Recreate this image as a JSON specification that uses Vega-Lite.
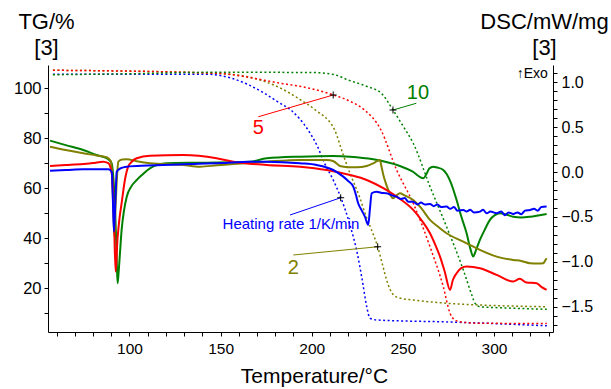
{
  "$schema": "https://vega.github.io/schema/vega-lite/v6.json",
  "width": 505,
  "height": 267,
  "autosize": {"type": "none"},
  "padding": {"left": 48, "top": 65, "right": 58, "bottom": 57},
  "background": "white",
  "config": {
    "view": {"stroke": null},
    "font": "Liberation Sans",
    "axis": {
      "domainColor": "black", "tickColor": "black", "labelColor": "black", "titleColor": "black",
      "grid": false, "labelFont": "Liberation Sans", "titleFont": "Liberation Sans",
      "titleFontWeight": "normal", "domainWidth": 1, "tickWidth": 1, "tickSize": 4,
      "labelOverlap": false, "labelFlush": false
    }
  },
  "datasets": {
    "tg": [
      {"r":"1","T":58,"v":105.6},{"r":"1","T":100,"v":105.6},{"r":"1","T":143,"v":105.6},{"r":"1","T":156,"v":104.0},{"r":"1","T":165,"v":101.5},{"r":"1","T":174,"v":98.0},{"r":"1","T":182,"v":94.3},{"r":"1","T":189,"v":91.0},{"r":"1","T":198,"v":83.3},{"r":"1","T":203,"v":77.0},{"r":"1","T":207,"v":70.1},{"r":"1","T":212,"v":63.0},{"r":"1","T":216,"v":56.2},{"r":"1","T":221,"v":45.3},{"r":"1","T":225,"v":34.0},{"r":"1","T":228,"v":22.1},{"r":"1","T":230.2,"v":12.6},{"r":"1","T":232,"v":8.0},{"r":"1","T":236,"v":7.3},{"r":"1","T":276,"v":6.5},{"r":"1","T":329,"v":5.0},
      {"r":"2","T":58,"v":107.2},{"r":"2","T":147,"v":106.0},{"r":"2","T":165,"v":104.6},{"r":"2","T":183,"v":100.0},{"r":"2","T":194,"v":95.3},{"r":"2","T":202,"v":91.3},{"r":"2","T":212.6,"v":83.3},{"r":"2","T":217,"v":74.0},{"r":"2","T":221,"v":66.0},{"r":"2","T":226,"v":57.0},{"r":"2","T":230,"v":48.5},{"r":"2","T":233,"v":43.0},{"r":"2","T":236.2,"v":36.6},{"r":"2","T":239,"v":29.0},{"r":"2","T":241.1,"v":23.3},{"r":"2","T":243,"v":19.5},{"r":"2","T":244.7,"v":17.5},{"r":"2","T":248,"v":16.1},{"r":"2","T":256,"v":15.3},{"r":"2","T":274,"v":14.0},{"r":"2","T":292,"v":13.3},{"r":"2","T":329,"v":12.6},
      {"r":"5","T":58,"v":107.2},{"r":"5","T":147,"v":106.0},{"r":"5","T":183,"v":102.0},{"r":"5","T":200,"v":99.8},{"r":"5","T":212,"v":97.3},{"r":"5","T":221,"v":94.8},{"r":"5","T":229,"v":91.3},{"r":"5","T":238,"v":83.3},{"r":"5","T":246.6,"v":67.3},{"r":"5","T":255.7,"v":54.0},{"r":"5","T":264.9,"v":36.6},{"r":"5","T":272.2,"v":20.6},{"r":"5","T":275.9,"v":10.0},{"r":"5","T":278.6,"v":7.3},{"r":"5","T":283,"v":6.4},{"r":"5","T":292,"v":6.0},{"r":"5","T":329,"v":5.9},
      {"r":"10","T":58,"v":105.4},{"r":"10","T":100,"v":105.8},{"r":"10","T":147,"v":106.4},{"r":"10","T":200,"v":106.3},{"r":"10","T":212,"v":105.5},{"r":"10","T":220,"v":103.3},{"r":"10","T":230,"v":100.8},{"r":"10","T":238.2,"v":98.0},{"r":"10","T":244.6,"v":91.3},{"r":"10","T":250,"v":85.0},{"r":"10","T":255.7,"v":78.0},{"r":"10","T":264.9,"v":60.7},{"r":"10","T":274,"v":44.6},{"r":"10","T":283.2,"v":27.3},{"r":"10","T":288,"v":17.0},{"r":"10","T":289.6,"v":14.0},{"r":"10","T":292.3,"v":12.6},{"r":"10","T":300,"v":12.3},{"r":"10","T":310.6,"v":12.0},{"r":"10","T":329,"v":11.6}
    ],
    "dsc": [
      {"r":"10","T":56.4,"v":0.350},{"r":"10","T":65,"v":0.30},{"r":"10","T":74.6,"v":0.246},{"r":"10","T":82,"v":0.19},{"r":"10","T":87.5,"v":0.154},{"r":"10","T":90.2,"v":0.10},{"r":"10","T":91.3,"v":-0.1},{"r":"10","T":92.0,"v":-0.35},{"r":"10","T":92.6,"v":-0.7},{"r":"10","T":93.1,"v":-1.05},{"r":"10","T":93.5,"v":-1.238},{"r":"10","T":94.0,"v":-1.13},{"r":"10","T":94.8,"v":-0.9},{"r":"10","T":95.7,"v":-0.645},{"r":"10","T":97,"v":-0.43},{"r":"10","T":98.5,"v":-0.274},{"r":"10","T":101,"v":-0.16},{"r":"10","T":104,"v":-0.088},{"r":"10","T":107,"v":-0.03},{"r":"10","T":111.2,"v":0.042},{"r":"10","T":120.4,"v":0.098},{"r":"10","T":138.7,"v":0.105},{"r":"10","T":166.1,"v":0.116},{"r":"10","T":175.3,"v":0.154},{"r":"10","T":193.6,"v":0.172},{"r":"10","T":211.8,"v":0.179},{"r":"10","T":221,"v":0.172},{"r":"10","T":233.8,"v":0.143},{"r":"10","T":248.4,"v":0.068},{"r":"10","T":255,"v":0.01},{"r":"10","T":261.2,"v":-0.069},{"r":"10","T":263,"v":-0.02},{"r":"10","T":264.5,"v":0.04},{"r":"10","T":266.7,"v":0.060},{"r":"10","T":269,"v":0.05},{"r":"10","T":272.2,"v":0.023},{"r":"10","T":276,"v":-0.10},{"r":"10","T":279.5,"v":-0.311},{"r":"10","T":282,"v":-0.49},{"r":"10","T":285,"v":-0.682},{"r":"10","T":287,"v":-0.85},{"r":"10","T":288.6,"v":-0.942},{"r":"10","T":290.3,"v":-0.86},{"r":"10","T":292.3,"v":-0.756},{"r":"10","T":295,"v":-0.64},{"r":"10","T":297.8,"v":-0.533},{"r":"10","T":300.5,"v":-0.48},{"r":"10","T":303.3,"v":-0.459},{"r":"10","T":307,"v":-0.475},{"r":"10","T":310.6,"v":-0.497},{"r":"10","T":315,"v":-0.505},{"r":"10","T":319.8,"v":-0.497},{"r":"10","T":325,"v":-0.48},{"r":"10","T":328.9,"v":-0.467},
      {"r":"2","T":56.4,"v":0.283},{"r":"2","T":65,"v":0.245},{"r":"2","T":74.6,"v":0.209},{"r":"2","T":82,"v":0.185},{"r":"2","T":87.5,"v":0.165},{"r":"2","T":89.8,"v":0.12},{"r":"2","T":90.6,"v":-0.1},{"r":"2","T":91.2,"v":-0.45},{"r":"2","T":91.7,"v":-0.719},{"r":"2","T":92.2,"v":-0.45},{"r":"2","T":92.9,"v":-0.15},{"r":"2","T":93.9,"v":0.116},{"r":"2","T":96,"v":0.14},{"r":"2","T":98.5,"v":0.143},{"r":"2","T":104,"v":0.12},{"r":"2","T":111.2,"v":0.098},{"r":"2","T":129.5,"v":0.079},{"r":"2","T":138.7,"v":0.060},{"r":"2","T":148,"v":0.075},{"r":"2","T":157,"v":0.090},{"r":"2","T":175.3,"v":0.116},{"r":"2","T":193.6,"v":0.135},{"r":"2","T":208.2,"v":0.135},{"r":"2","T":212,"v":0.12},{"r":"2","T":215.5,"v":0.068},{"r":"2","T":220,"v":0.055},{"r":"2","T":224.7,"v":0.053},{"r":"2","T":230.2,"v":0.068},{"r":"2","T":234,"v":0.10},{"r":"2","T":237.4,"v":0.135},{"r":"2","T":238.3,"v":0.06},{"r":"2","T":239.3,"v":-0.032},{"r":"2","T":240.6,"v":-0.12},{"r":"2","T":242,"v":-0.199},{"r":"2","T":243.3,"v":-0.26},{"r":"2","T":244.7,"v":-0.292},{"r":"2","T":246.5,"v":-0.26},{"r":"2","T":248.4,"v":-0.236},{"r":"2","T":251,"v":-0.26},{"r":"2","T":255.7,"v":-0.311},{"r":"2","T":260,"v":-0.40},{"r":"2","T":264.9,"v":-0.533},{"r":"2","T":270,"v":-0.62},{"r":"2","T":274,"v":-0.682},{"r":"2","T":283.2,"v":-0.775},{"r":"2","T":292.3,"v":-0.867},{"r":"2","T":301.5,"v":-0.942},{"r":"2","T":310.6,"v":-0.979},{"r":"2","T":315,"v":-0.99},{"r":"2","T":319.8,"v":-1.016},{"r":"2","T":324,"v":-1.02},{"r":"2","T":327.1,"v":-1.016},{"r":"2","T":328,"v":-0.99},{"r":"2","T":328.9,"v":-0.96},
      {"r":"5","T":56.4,"v":0.068},{"r":"5","T":65,"v":0.078},{"r":"5","T":74.6,"v":0.090},{"r":"5","T":80,"v":0.10},{"r":"5","T":85.6,"v":0.116},{"r":"5","T":88.4,"v":0.10},{"r":"5","T":90.4,"v":-0.03},{"r":"5","T":91.5,"v":-0.53},{"r":"5","T":92.4,"v":-1.109},{"r":"5","T":93.4,"v":-0.756},{"r":"5","T":94.5,"v":-0.52},{"r":"5","T":95.7,"v":-0.347},{"r":"5","T":97.5,"v":-0.088},{"r":"5","T":99.3,"v":0.06},{"r":"5","T":101.5,"v":0.12},{"r":"5","T":104,"v":0.154},{"r":"5","T":111.2,"v":0.183},{"r":"5","T":129.5,"v":0.190},{"r":"5","T":147.8,"v":0.154},{"r":"5","T":157,"v":0.116},{"r":"5","T":175.3,"v":0.079},{"r":"5","T":193.6,"v":0.060},{"r":"5","T":208.2,"v":0.023},{"r":"5","T":221,"v":-0.032},{"r":"5","T":230.2,"v":-0.088},{"r":"5","T":239.3,"v":-0.180},{"r":"5","T":246.6,"v":-0.274},{"r":"5","T":255.7,"v":-0.422},{"r":"5","T":260,"v":-0.53},{"r":"5","T":264.9,"v":-0.682},{"r":"5","T":268,"v":-0.82},{"r":"5","T":270.4,"v":-0.942},{"r":"5","T":273,"v":-1.11},{"r":"5","T":275.9,"v":-1.313},{"r":"5","T":277.5,"v":-1.20},{"r":"5","T":279.5,"v":-1.127},{"r":"5","T":282,"v":-1.07},{"r":"5","T":285,"v":-1.053},{"r":"5","T":292.3,"v":-1.071},{"r":"5","T":301.5,"v":-1.146},{"r":"5","T":310.6,"v":-1.220},{"r":"5","T":314.2,"v":-1.19},{"r":"5","T":317.9,"v":-1.231},{"r":"5","T":323.4,"v":-1.238},{"r":"5","T":326,"v":-1.28},{"r":"5","T":328.9,"v":-1.313},
      {"r":"1","T":56.4,"v":0.016},{"r":"1","T":65,"v":0.022},{"r":"1","T":74.6,"v":0.031},{"r":"1","T":88.4,"v":0.031},{"r":"1","T":90.3,"v":0.0},{"r":"1","T":90.9,"v":-0.31},{"r":"1","T":91.5,"v":-0.664},{"r":"1","T":92.3,"v":-0.31},{"r":"1","T":93,"v":0.004},{"r":"1","T":95,"v":0.04},{"r":"1","T":98.5,"v":0.060},{"r":"1","T":110,"v":0.072},{"r":"1","T":129.5,"v":0.087},{"r":"1","T":150,"v":0.10},{"r":"1","T":166.1,"v":0.116},{"r":"1","T":175.3,"v":0.116},{"r":"1","T":193.6,"v":0.098},{"r":"1","T":202.7,"v":0.079},{"r":"1","T":211.8,"v":0.023},{"r":"1","T":217.3,"v":-0.051},{"r":"1","T":220,"v":-0.10},{"r":"1","T":222.8,"v":-0.163},{"r":"1","T":224.2,"v":-0.25},{"r":"1","T":225.5,"v":-0.347},{"r":"1","T":227.5,"v":-0.43},{"r":"1","T":229.2,"v":-0.497},{"r":"1","T":231,"v":-0.589},{"r":"1","T":232,"v":-0.40},{"r":"1","T":232.9,"v":-0.236},{"r":"1","T":235.6,"v":-0.218},{"r":"1","T":238,"v":-0.23},{"r":"1","T":241.1,"v":-0.236},{"r":"1","T":244,"v":-0.26},{"r":"1","T":246.6,"v":-0.274},{"r":"1","T":249,"v":-0.30},{"r":"1","T":251,"v":-0.29},{"r":"1","T":253,"v":-0.33},{"r":"1","T":255.7,"v":-0.330},{"r":"1","T":258,"v":-0.36},{"r":"1","T":260,"v":-0.34},{"r":"1","T":262,"v":-0.36},{"r":"1","T":264.9,"v":-0.355},{"r":"1","T":267,"v":-0.38},{"r":"1","T":269,"v":-0.36},{"r":"1","T":271,"v":-0.39},{"r":"1","T":274,"v":-0.385},{"r":"1","T":276,"v":-0.41},{"r":"1","T":278,"v":-0.39},{"r":"1","T":280,"v":-0.43},{"r":"1","T":283.2,"v":-0.422},{"r":"1","T":285,"v":-0.44},{"r":"1","T":287,"v":-0.42},{"r":"1","T":289,"v":-0.45},{"r":"1","T":292.3,"v":-0.441},{"r":"1","T":294,"v":-0.42},{"r":"1","T":296,"v":-0.46},{"r":"1","T":298,"v":-0.44},{"r":"1","T":301.5,"v":-0.459},{"r":"1","T":304,"v":-0.44},{"r":"1","T":306,"v":-0.48},{"r":"1","T":308,"v":-0.45},{"r":"1","T":310.6,"v":-0.467},{"r":"1","T":313,"v":-0.45},{"r":"1","T":315,"v":-0.47},{"r":"1","T":317,"v":-0.43},{"r":"1","T":319.8,"v":-0.422},{"r":"1","T":322,"v":-0.41},{"r":"1","T":324,"v":-0.43},{"r":"1","T":326,"v":-0.39},{"r":"1","T":328.9,"v":-0.385}
    ],
    "ann": [
      {"r":"1","t1":188.1,"g1":49.3,"t2":215.9,"g2":56.2,"tt":188.6,"gt":45.7,"label":"Heating rate 1/K/min"},
      {"r":"2","t1":189.9,"g1":33.3,"t2":236.2,"g2":36.6,"tt":189.9,"gt":28.0,"label":"2"},
      {"r":"5","t1":170.7,"g1":88.6,"t2":211.8,"g2":97.3,"tt":170.7,"gt":84.0,"label":"5"},
      {"r":"10","t1":257.4,"g1":94.0,"t2":244.6,"g2":91.3,"tt":258.3,"gt":98.0,"label":"10"}
    ],
    "exo": [{"T":329.6,"v":105.9,"label":"↑Exo"}]
  },
  "layer": [
    {
      "data": {"name": "tg"},
      "mark": {"type": "line", "strokeDash": [2, 2.5], "strokeWidth": 1.5, "interpolate": "monotone"},
      "encoding": {
        "x": {"field": "T", "type": "quantitative", "scale": {"domain": [55.3, 332.4], "nice": false, "zero": false},
          "axis": {"title": "Temperature/°C", "values": [60,70,80,90,100,110,120,130,140,150,160,170,180,190,200,210,220,230,240,250,260,270,280,290,300,310,320,330], "labelExpr": "datum.value % 50 == 0 ? datum.label : ''", "labelFontSize": 15.5, "labelPadding": 5, "titleFontSize": 21, "titleX": 266, "titleY": 33, "titleAlign": "center", "titleBaseline": "top"}},
        "y": {"field": "v", "type": "quantitative", "scale": {"domain": [2.5, 109.3], "nice": false, "zero": false},
          "axis": {"orient": "left", "title": ["TG/%", "[3]"], "values": [10,20,30,40,50,60,70,80,90,100],
            "labelExpr": "datum.value % 20 == 0 ? datum.label : ''", "labelFontSize": 16.5, "labelPadding": 3,
            "titleAngle": 0, "titleAlign": "center", "titleBaseline": "top", "titleX": -2, "titleY": -54, "titleFontSize": 22, "titleLineHeight": 26}},
        "color": {"field": "r", "type": "nominal", "scale": {"domain": ["1","2","5","10"], "range": ["#0000ff","#808000","#ff0000","#008000"]}, "legend": null}
      }
    },
    {
      "data": {"name": "dsc"},
      "mark": {"type": "line", "strokeWidth": 2, "interpolate": "monotone"},
      "encoding": {
        "x": {"field": "T", "type": "quantitative", "scale": {"domain": [55.3, 332.4], "nice": false, "zero": false},
          "axis": {"title": "Temperature/°C", "values": [60,70,80,90,100,110,120,130,140,150,160,170,180,190,200,210,220,230,240,250,260,270,280,290,300,310,320,330], "labelExpr": "datum.value % 50 == 0 ? datum.label : ''", "labelFontSize": 15.5, "labelPadding": 5, "titleFontSize": 21, "titleX": 266, "titleY": 33, "titleAlign": "center", "titleBaseline": "top"}},
        "y": {"field": "v", "type": "quantitative", "scale": {"domain": [-1.782, 1.193], "nice": false, "zero": false},
          "axis": {"orient": "right", "title": ["DSC/mW/mg", "[3]"],
            "values": [-1.7,-1.6,-1.5,-1.4,-1.3,-1.2,-1.1,-1.0,-0.9,-0.8,-0.7,-0.6,-0.5,-0.4,-0.3,-0.2,-0.1,0,0.1,0.2,0.3,0.4,0.5,0.6,0.7,0.8,0.9,1.0,1.1],
            "labelExpr": "round(datum.value*10) % 5 == 0 ? format(datum.value, '.1f') : ''", "labelFontSize": 16, "labelPadding": 4,
            "titleAngle": 0, "titleAlign": "center", "titleBaseline": "top", "titleX": -9, "titleY": -54, "titleFontSize": 22, "titleLineHeight": 26}},
        "color": {"field": "r", "type": "nominal", "legend": null}
      }
    },
    {
      "data": {"name": "ann"},
      "mark": {"type": "rule", "strokeWidth": 1},
      "encoding": {
        "x": {"field": "t1", "type": "quantitative", "scale": {"domain": [55.3, 332.4], "nice": false, "zero": false},
          "axis": {"title": "Temperature/°C", "values": [60,70,80,90,100,110,120,130,140,150,160,170,180,190,200,210,220,230,240,250,260,270,280,290,300,310,320,330], "labelExpr": "datum.value % 50 == 0 ? datum.label : ''", "labelFontSize": 15.5, "labelPadding": 5, "titleFontSize": 21, "titleX": 266, "titleY": 33, "titleAlign": "center", "titleBaseline": "top"}},
        "y": {"field": "g1", "type": "quantitative", "scale": {"domain": [2.5, 109.3], "nice": false, "zero": false}, "axis": null},
        "x2": {"field": "t2"},
        "y2": {"field": "g2"},
        "color": {"field": "r", "type": "nominal", "legend": null}
      }
    },
    {
      "data": {"name": "ann"},
      "mark": {"type": "point", "shape": "M-1,0L1,0M0,-1L0,1", "size": 49, "filled": false, "stroke": "black", "strokeWidth": 1, "opacity": 1},
      "encoding": {
        "x": {"field": "t2", "type": "quantitative", "scale": {"domain": [55.3, 332.4], "nice": false, "zero": false},
          "axis": {"title": "Temperature/°C", "values": [60,70,80,90,100,110,120,130,140,150,160,170,180,190,200,210,220,230,240,250,260,270,280,290,300,310,320,330], "labelExpr": "datum.value % 50 == 0 ? datum.label : ''", "labelFontSize": 15.5, "labelPadding": 5, "titleFontSize": 21, "titleX": 266, "titleY": 33, "titleAlign": "center", "titleBaseline": "top"}},
        "y": {"field": "g2", "type": "quantitative", "scale": {"domain": [2.5, 109.3], "nice": false, "zero": false}, "axis": null}
      }
    },
    {
      "data": {"name": "ann"},
      "transform": [{"filter": "datum.r != '1'"}],
      "mark": {"type": "text", "fontSize": 20, "align": "center", "baseline": "middle", "font": "Liberation Sans"},
      "encoding": {
        "x": {"field": "tt", "type": "quantitative", "scale": {"domain": [55.3, 332.4], "nice": false, "zero": false},
          "axis": {"title": "Temperature/°C", "values": [60,70,80,90,100,110,120,130,140,150,160,170,180,190,200,210,220,230,240,250,260,270,280,290,300,310,320,330], "labelExpr": "datum.value % 50 == 0 ? datum.label : ''", "labelFontSize": 15.5, "labelPadding": 5, "titleFontSize": 21, "titleX": 266, "titleY": 33, "titleAlign": "center", "titleBaseline": "top"}},
        "y": {"field": "gt", "type": "quantitative", "scale": {"domain": [2.5, 109.3], "nice": false, "zero": false}, "axis": null},
        "text": {"field": "label"},
        "color": {"field": "r", "type": "nominal", "legend": null}
      }
    },
    {
      "data": {"name": "ann"},
      "transform": [{"filter": "datum.r == '1'"}],
      "mark": {"type": "text", "fontSize": 15, "align": "center", "baseline": "middle", "font": "Liberation Sans"},
      "encoding": {
        "x": {"field": "tt", "type": "quantitative", "scale": {"domain": [55.3, 332.4], "nice": false, "zero": false},
          "axis": {"title": "Temperature/°C", "values": [60,70,80,90,100,110,120,130,140,150,160,170,180,190,200,210,220,230,240,250,260,270,280,290,300,310,320,330], "labelExpr": "datum.value % 50 == 0 ? datum.label : ''", "labelFontSize": 15.5, "labelPadding": 5, "titleFontSize": 21, "titleX": 266, "titleY": 33, "titleAlign": "center", "titleBaseline": "top"}},
        "y": {"field": "gt", "type": "quantitative", "scale": {"domain": [2.5, 109.3], "nice": false, "zero": false}, "axis": null},
        "text": {"field": "label"},
        "color": {"field": "r", "type": "nominal", "legend": null}
      }
    },
    {
      "data": {"name": "exo"},
      "mark": {"type": "text", "fontSize": 14, "align": "right", "baseline": "middle", "color": "black", "font": "Liberation Sans"},
      "encoding": {
        "x": {"field": "T", "type": "quantitative", "scale": {"domain": [55.3, 332.4], "nice": false, "zero": false},
          "axis": {"title": "Temperature/°C", "values": [60,70,80,90,100,110,120,130,140,150,160,170,180,190,200,210,220,230,240,250,260,270,280,290,300,310,320,330], "labelExpr": "datum.value % 50 == 0 ? datum.label : ''", "labelFontSize": 15.5, "labelPadding": 5, "titleFontSize": 21, "titleX": 266, "titleY": 33, "titleAlign": "center", "titleBaseline": "top"}},
        "y": {"field": "v", "type": "quantitative", "scale": {"domain": [2.5, 109.3], "nice": false, "zero": false}, "axis": null},
        "text": {"field": "label"}
      }
    }
  ],
  "resolve": {"scale": {"y": "independent"}}
}
